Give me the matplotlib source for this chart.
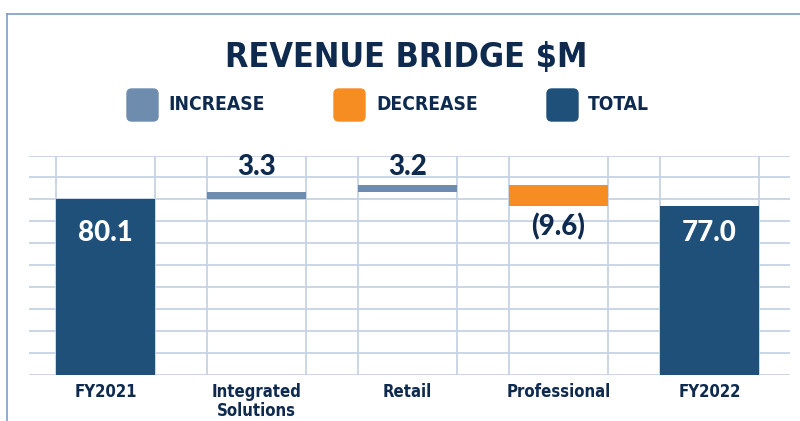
import matplotlib
matplotlib.use("Agg")
import matplotlib.pyplot as plt
from matplotlib.patches import FancyBboxPatch
from matplotlib.lines import Line2D

# ── data ──────────────────────────────────────────
categories = ["FY2021", "Integrated\nSolutions", "Retail", "Professional", "FY2022"]
values = [80.1, 3.3, 3.2, -9.6, 77.0]
kinds = ["total", "increase", "increase", "decrease", "total"]
value_labels = ["80.1", "3.3", "3.2", "(9.6)", "77.0"]

legend_names = ["INCREASE", "DECREASE", "TOTAL"]

# ── styles ────────────────────────────────────────
COLORS = {"increase": "#6e8cae", "decrease": "#f58d22", "total": "#1f5079"}
NAVY = "#0e2a4f"
GRID = "#c6d3e5"
COND = ["DejaVu Sans"]
ROUND = ["Lato", "DejaVu Sans"]

W, H = 800, 421
fig = plt.figure(figsize=(W / 100, H / 100), dpi=100)

# outer frame (cut off at right / bottom)
fig.add_artist(Line2D([7 / W, 1.0], [1 - 14 / H, 1 - 14 / H], color="#7f9cc4", lw=1.2))
fig.add_artist(Line2D([7 / W, 7 / W], [1 - 14 / H, 0.0], color="#7f9cc4", lw=1.2))

ax = fig.add_axes([29 / W, 1 - 374.5 / H, (790 - 29) / W, (374.5 - 155.5) / H])
ax.set_xlim(-0.507, 4.533)
ax.set_ylim(0, 100)

bar_w = 0.66
x = list(range(len(categories)))

# horizontal grid
for gy in range(0, 101, 10):
    ax.axhline(gy, color=GRID, lw=1.3, zorder=0)
# vertical grid at bar edges
for xi in x:
    for edge in (xi - bar_w / 2, xi + bar_w / 2):
        ax.axvline(edge, color=GRID, lw=1.3, zorder=0)

label_kw = dict(ha="center", va="center", fontsize=20, fontweight="black",
                family=ROUND, zorder=4)
running = 0.0
for xi, v, k, lab in zip(x, values, kinds, value_labels):
    if k == "total":
        bottom, height = 0, v
        running = v
        ax.text(xi, 64.5, lab, color="white", **label_kw)
    elif k == "increase":
        bottom, height = running, v
        running += v
        ax.text(xi, 94.6, lab, color=NAVY, **label_kw)
    else:
        bottom, height = running + v, -v
        running += v
        ax.text(xi, bottom - 9.7, lab, color=NAVY, **label_kw)
    ax.bar(xi, height, bottom=bottom, width=bar_w, color=COLORS[k], zorder=3)

ax.set_xticks(x)
ax.set_xticklabels(categories, fontsize=12, color=NAVY, family=COND,
                   fontweight="bold", fontstretch="condensed", linespacing=1.05)
ax.tick_params(axis="x", length=0, pad=6)
ax.set_yticks([])
for s in ax.spines.values():
    s.set_visible(False)

# title
fig.text(406 / W, 1 - 57 / H, "REVENUE BRIDGE $M", ha="center", va="center",
         fontsize=24.5, fontweight="bold", fontstretch="condensed", color=NAVY, family=COND)

# legend
leg_sq = [127, 334, 547]
leg_tx = [168, 376, 588]
for sx, tx, name, k in zip(leg_sq, leg_tx, legend_names, ["increase", "decrease", "total"]):
    fig.add_artist(FancyBboxPatch((sx / W, 1 - 121 / H), 31 / W, 32 / H,
                                  boxstyle="round,pad=0,rounding_size=0.006",
                                  transform=fig.transFigure, color=COLORS[k],
                                  mutation_aspect=W / H))
    fig.text(tx / W, 1 - 105 / H, name, ha="left", va="center", fontsize=13.8,
             fontweight="bold", fontstretch="condensed", color=NAVY, family=COND)

fig.savefig("out.png", dpi=100)
